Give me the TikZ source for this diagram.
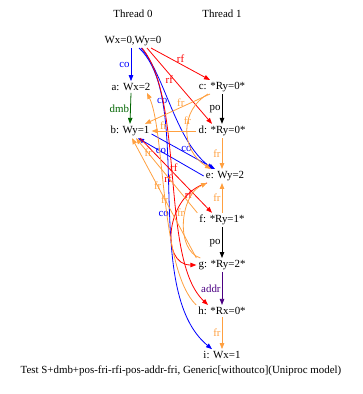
\documentclass[tikz,border=0pt]{standalone}
\usepackage{fontspec}
\setmainfont{Liberation Serif}
\usetikzlibrary{arrows.meta}
\definecolor{frcol}{HTML}{FFA040}
\definecolor{dmbcol}{HTML}{006400}
\definecolor{addrcol}{HTML}{4B0082}
\tikzset{%
	ev/.style      = {inner sep=2pt},
	lbl/.style     = {inner sep=1pt},
	evarrow/.style = {line width=0.8pt,-{Triangle[length=6pt,width=4.5pt]}},
	coedge/.style  = {evarrow,blue},
	rfedge/.style  = {evarrow,red},
	fredge/.style  = {evarrow,frcol},
	poedge/.style  = {evarrow,black},
	dmbedge/.style = {evarrow,dmbcol},
	addredge/.style= {evarrow,addrcol},
}

\begin{document}
\begin{tikzpicture}[x=1pt,y=-1pt,font=\fontsize{10.9}{13}\selectfont]
		\useasboundingbox (0,0) rectangle (362,394);
		% events
		\node[ev] (t0) at (133,14) {Thread 0};
		\node[ev] (t1) at (222,14) {Thread 1};
		\node[ev] (init) at (133,41) {Wx=0,Wy=0};
		\node[ev] (a) at (131,87) {a: Wx=2};
		\node[ev] (b) at (130,131) {b: Wy=1};
		\node[ev] (c) at (222,87) {c: *Ry=0*};
		\node[ev] (d) at (222,131) {d: *Ry=0*};
		\node[ev] (e) at (225,176) {e: Wy=2};
		\node[ev] (f) at (222,220) {f: *Ry=1*};
		\node[ev] (g) at (222,265) {g: *Ry=2*};
		\node[ev] (h) at (222,311) {h: *Rx=0*};
		\node[ev] (i) at (222,355) {i: Wx=1};
		\node[ev] (cap) at (181,371) {Test S+dmb+pos-fri-rfi-pos-addr-fri, Generic[withoutco](Uniproc model)};
		
		% program order
		\draw[dmbedge] (a.south) -- (b.north) node[lbl,midway,left] {dmb};
		\draw[poedge] (c.south) -- (d.north) node[lbl,midway,left] {po};
		\draw[poedge] (f.south) -- (g.north) node[lbl,midway,left] {po};
		\draw[addredge] (g.south) -- (h.north) node[lbl,midway,left] {addr};
		
		% coherence
		\draw[coedge] (a.north |- init.south) -- (a.north) node[lbl,midway,left] {co};
		\draw[coedge] ([xshift=8pt]init.south) .. controls (165,75) and (175,140) .. ([xshift=-12pt]e.north) node[lbl,pos=.45,left] {co};
		\draw[coedge] ([yshift=-3pt]b.east) -- ([xshift=-10pt]e.north) node[lbl,pos=.55,above] {co};
		\draw[coedge] (e.west) -- ([xshift=8pt]b.south) node[lbl,pos=.65] {co};
		\draw[coedge] ([xshift=6pt]init.south) .. controls (195,100) and (140,290) .. ([xshift=-10pt]i.north) node[lbl,pos=.55,left] {co};
		
		% read from
		\draw[rfedge] ([xshift=18pt]init.south) -- ([xshift=-12pt]c.north) node[lbl,midway,above] {rf};
		\draw[rfedge] ([xshift=14pt]init.south) -- ([xshift=-10pt]d.north) node[lbl,pos=.42,left] {rf};
		\draw[rfedge] ([xshift=9pt]init.south) .. controls (185,100) and (160,260) .. ([xshift=-14pt]h.north) node[lbl,pos=.5,left] {rf};
		\draw[rfedge] ([xshift=10pt]b.south) -- ([xshift=-10pt]f.north) node[lbl,pos=.4,right] {rf};
		\draw[rfedge] ([xshift=-18pt]e.south) .. controls (165,195) and (160,265) .. (g.west) node[lbl,pos=.12,below left] {rf};
		
		% from read
		\draw[fredge] ([xshift=-12pt]c.south) -- ([xshift=15pt]b.north) node[lbl,pos=.45,above] {fr};
		\draw[fredge] ([xshift=-14pt]c.south) .. controls (180,110) and (180,150) .. ([xshift=-14pt]e.north) node[lbl,pos=.45,above] {fr};
		\draw[fredge] (d.west) -- (b.east) node[lbl,pos=.73,above] {fr};
		\draw[fredge] (d.south) -- (d.south |- e.north) node[lbl,midway,left] {fr};
		\draw[fredge] (f.north) -- (f.north |- e.south) node[lbl,midway,left] {fr};
		\draw[fredge] (f.north west) -- ([xshift=6pt]b.south) node[lbl,pos=.8] {fr};
		\draw[fredge] (g.north west) -- ([xshift=2pt]b.south) node[lbl,pos=.6] {fr};
		\draw[fredge] (h.north west) .. controls (160,270) and (165,130) .. ([xshift=16pt]a.south) node[lbl,pos=.5] {fr};
		\draw[fredge] ([xshift=4pt]g.north west) .. controls (175,250) and (180,195) .. ([xshift=-18pt]e.south) node[lbl,pos=.6,left] {fr};
		\draw[fredge] (h.south) -- (h.south |- i.north) node[lbl,midway,left] {fr};
		
		\end{tikzpicture}
\end{document}
